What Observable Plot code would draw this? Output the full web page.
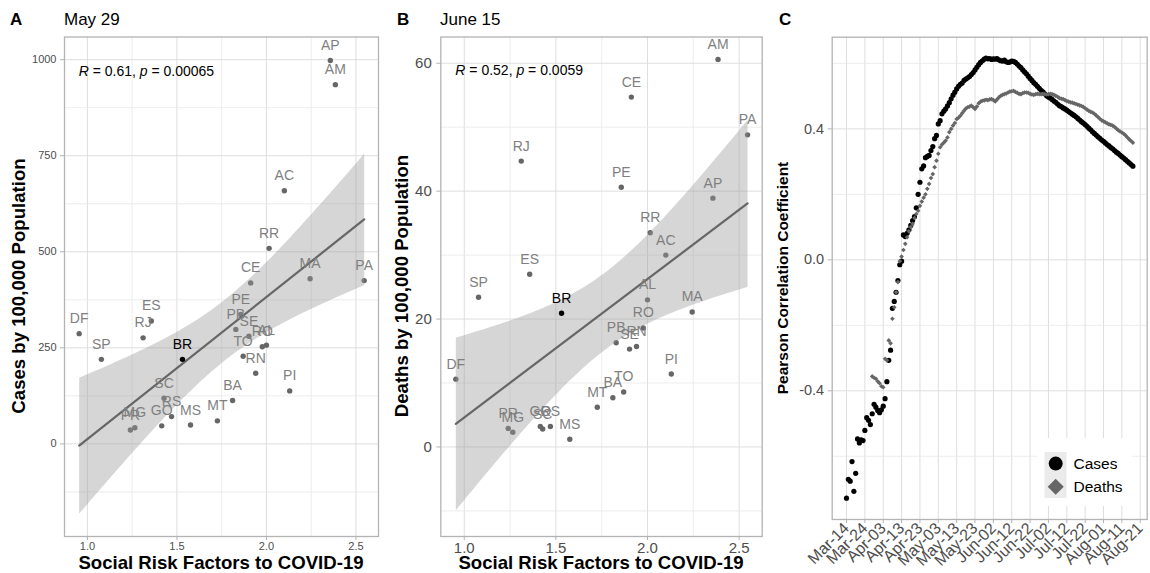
<!DOCTYPE html>
<html><head><meta charset="utf-8">
<script src="https://cdn.jsdelivr.net/npm/d3@7"></script>
<script src="https://cdn.jsdelivr.net/npm/@observablehq/plot@0.6"></script>
<style>
body{margin:0;background:#fff;font-family:"Liberation Sans",Arial,Helvetica,sans-serif;}
#root{position:relative;width:1150px;height:573px;overflow:hidden;background:#fff;}
.panel{position:absolute;top:0;}
.tag{position:absolute;font-weight:bold;font-size:17px;line-height:1;color:#000;}
.title{position:absolute;font-size:17px;line-height:1;color:#000;}
.xt{position:absolute;font-weight:bold;font-size:18.6px;line-height:1;white-space:nowrap;transform:translate(-50%,-50%);color:#000;}
.yt{position:absolute;font-weight:bold;line-height:1;white-space:nowrap;transform:translate(-50%,-50%) rotate(-90deg);color:#000;}
</style></head><body><div id="root"></div>
<script>
// ---------- data: panels A and B ----------
const states      = ["AC","AL","AM","AP","BA","CE","DF","ES","GO","MA","MG","MS","MT","PA","PB","PE","PI","PR","RJ","RN","RO","RR","RS","SC","SE","SP","TO","BR"];
const socialRisk  = [2.100,2.000,2.385,2.357,1.811,1.912,0.954,1.357,1.415,2.244,1.265,1.576,1.726,2.546,1.829,1.857,2.130,1.240,1.311,1.940,1.977,2.015,1.470,1.428,1.902,1.078,1.870,1.531];
const casesMay29  = [659,257,935,998,113,419,287,320,47,430,42,49,60,425,298,337,138,36,276,184,253,509,71,119,280,220,228,220];
const deathsJun15 = [30.0,23.0,60.6,38.9,7.7,54.7,10.6,27.0,3.2,21.1,2.3,1.2,6.2,48.8,16.3,40.6,11.4,2.9,44.7,15.7,18.6,33.5,3.2,2.8,15.3,23.4,8.6,20.9];
const xTicks = [1.0,1.5,2.0,2.5];
const xMinor = [1.25,1.75,2.25];
const casesTicks = [0,250,500,750,1000];
const casesMinor = [-125,125,375,625,875];
const deathsTicks = [0,20,40,60];
const deathsMinor = [-10,10,30,50];
const statA = {R:"0.61", p:"0.00065"};
const statB = {R:"0.52", p:"0.0059"};

// ---------- data: panel C (daily Pearson r) ----------
const casesStart = "2020-03-14";
const casesCorr = [
-0.728,-0.670,-0.676,-0.616,-0.707,-0.652,-0.547,-0.559,-0.550,-0.552,
-0.521,-0.482,-0.490,-0.503,-0.470,-0.441,-0.450,-0.460,-0.467,-0.458,
-0.447,-0.424,-0.372,-0.307,-0.276,-0.148,-0.127,-0.099,-0.063,-0.015,
-0.004,0.076,0.071,0.081,0.092,0.105,0.120,0.132,0.159,0.200,
0.237,0.278,0.287,0.312,0.316,0.319,0.334,0.346,0.370,0.380,
0.415,0.425,0.446,0.454,0.461,0.470,0.480,0.492,0.503,0.512,
0.522,0.530,0.536,0.540,0.548,0.552,0.556,0.560,0.566,0.572,
0.580,0.588,0.596,0.603,0.608,0.613,0.616,0.614,0.615,0.612,
0.614,0.613,0.615,0.611,0.608,0.607,0.610,0.605,0.603,0.604,
0.607,0.606,0.603,0.598,0.592,0.587,0.580,0.574,0.568,0.561,
0.554,0.548,0.541,0.536,0.530,0.524,0.518,0.513,0.507,0.501,
0.497,0.494,0.490,0.485,0.481,0.476,0.471,0.468,0.464,0.461,
0.457,0.453,0.449,0.445,0.441,0.437,0.432,0.427,0.422,0.418,
0.413,0.408,0.402,0.397,0.391,0.386,0.381,0.376,0.371,0.366,
0.362,0.357,0.352,0.348,0.343,0.339,0.334,0.329,0.325,0.320,
0.315,0.311,0.306,0.301,0.296,0.291,0.286];
const deathsStart = "2020-03-28";
const deathsCorr = [
-0.356,-0.360,-0.363,-0.371,-0.377,-0.386,-0.389,-0.302,-0.307,-0.246,
-0.255,-0.180,-0.145,-0.099,-0.068,-0.004,0.010,0.030,0.049,0.069,
0.087,0.100,0.110,0.128,0.140,0.150,0.165,0.178,0.190,0.200,
0.217,0.232,0.250,0.262,0.283,0.303,0.324,0.344,0.352,0.358,
0.364,0.374,0.390,0.400,0.410,0.418,0.430,0.434,0.440,0.448,
0.455,0.462,0.466,0.468,0.471,0.466,0.461,0.468,0.478,0.483,
0.486,0.487,0.489,0.488,0.490,0.491,0.488,0.484,0.490,0.496,
0.501,0.504,0.506,0.508,0.511,0.514,0.515,0.516,0.513,0.510,
0.507,0.506,0.509,0.511,0.511,0.510,0.507,0.505,0.504,0.506,
0.507,0.506,0.506,0.507,0.506,0.505,0.506,0.507,0.506,0.504,
0.501,0.498,0.494,0.492,0.491,0.488,0.485,0.483,0.481,0.480,
0.478,0.476,0.474,0.472,0.470,0.467,0.463,0.459,0.455,0.452,
0.450,0.446,0.441,0.436,0.431,0.426,0.423,0.420,0.417,0.414,
0.412,0.410,0.406,0.401,0.396,0.392,0.389,0.385,0.380,0.374,
0.368,0.363,0.358];
const dateTicks = ["2020-03-14","2020-03-24","2020-04-03","2020-04-13","2020-04-23","2020-05-03","2020-05-13","2020-05-23","2020-06-02","2020-06-12","2020-06-22","2020-07-02","2020-07-12","2020-07-22","2020-08-01","2020-08-11","2020-08-21"];
const corrTicks = [-0.4,0.0,0.4];
const corrMinor = [-0.6,-0.2,0.2,0.6];
const seriesNames = ["Cases","Deaths"];

// ---------- build ----------
const FONT = '"Liberation Sans", Arial, Helvetica, sans-serif';
const GRID = "#dedede", GRIDMINOR = "#e9e9e9", BORDER = "#b3b3b3", TICKTXT = "#4d4d4d";
const root = document.getElementById("root");
function html(cls, text, left, top, extra) {
  const d = document.createElement("div");
  d.className = cls; d.textContent = text;
  d.style.left = left + "px"; d.style.top = top + "px";
  if (extra) Object.assign(d.style, extra);
  root.appendChild(d); return d;
}

const stateData = states.map((s,i)=>({state:s, x:socialRisk[i], cases:casesMay29[i], deaths:deathsJun15[i]}));
const statesOnly = stateData.filter(d=>d.state!=="BR");
const brazil = stateData.filter(d=>d.state==="BR");

function scatter(o) {
  const svg = Plot.plot({
    width: o.width, height: 573,
    marginLeft: o.marginLeft, marginRight: o.marginRight, marginTop: 36.5, marginBottom: 37,
    style: {fontFamily: FONT, background: "white"},
    x: {domain: [0.872, 2.626]},
    y: {domain: o.yDomain},
    marks: [
      Plot.gridX(xMinor, {stroke: GRIDMINOR, strokeOpacity: 1, strokeWidth: 0.8}),
      Plot.gridX(xTicks, {stroke: GRID, strokeOpacity: 1, strokeWidth: 1}),
      Plot.gridY(o.yMinor, {stroke: GRIDMINOR, strokeOpacity: 1, strokeWidth: 0.8}),
      Plot.gridY(o.yTicks, {stroke: GRID, strokeOpacity: 1, strokeWidth: 1}),
      Plot.dot(statesOnly, {x: "x", y: o.field, r: 2.7, fill: "#666666"}),
      Plot.linearRegressionY(statesOnly, {x: "x", y: o.field, stroke: "#666666", strokeWidth: 2.2, fill: "#999999", fillOpacity: 0.4}),
      Plot.dot(brazil, {x: "x", y: o.field, r: 2.7, fill: "black"}),
      Plot.text(statesOnly, {x: "x", y: o.field, text: "state", dy: -15, fill: "#7f7f7f", fontSize: 14}),
      Plot.text(brazil, {x: "x", y: o.field, text: "state", dy: -15, fill: "black", fontSize: 14}),
      Plot.frame({stroke: BORDER, strokeWidth: 1.3}),
      Plot.axisX(xTicks, {tickSize: 4, tickPadding: 2, fontSize: o.tickFont, fill: TICKTXT, stroke: BORDER, label: null, tickFormat: d3.format(".1f")}),
      Plot.axisY(o.yTicks, {tickSize: 4, tickPadding: o.yPad, fontSize: o.tickFont, fill: TICKTXT, stroke: BORDER, label: null, tickFormat: d => String(d)})
    ]
  });
  const sx = svg.scale("x"), sy = svg.scale("y");
  const t = d3.select(svg).append("text")
    .attr("x", sx.apply(o.annX)).attr("y", sy.apply(o.annY)).attr("dy", "0.35em")
    .attr("text-anchor", "start")
    .attr("font-size", 14).attr("font-family", FONT).attr("fill", "black");
  t.append("tspan").attr("font-style", "italic").text("R");
  t.append("tspan").text(` = ${o.stat.R}, `);
  t.append("tspan").attr("font-style", "italic").text("p");
  t.append("tspan").text(` = ${o.stat.p}`);
  svg.classList.add("panel");
  svg.style.left = o.left + "px";
  root.appendChild(svg);
}

scatter({left: 0, width: 380, marginLeft: 64, marginRight: 2, field: "cases", yDomain: [-241, 1059],
  yTicks: casesTicks, yMinor: casesMinor, tickFont: 11, yPad: 4, annX: 0.954, annY: 968, stat: statA});
scatter({left: 380, width: 385, marginLeft: 60.3, marginRight: 3.3, field: "deaths", yDomain: [-14, 64.1],
  yTicks: deathsTicks, yMinor: deathsMinor, tickFont: 15, yPad: 5, annX: 0.954, annY: 58.8, stat: statB});

// panel C
const day = 864e5;
const parse = d3.utcParse("%Y-%m-%d");
const c0 = parse(casesStart), d0 = parse(deathsStart);
const corrData = [
  ...casesCorr.map((r,i)=>({date: new Date(+c0 + i*day), r, series: seriesNames[0]})),
  ...deathsCorr.map((r,i)=>({date: new Date(+d0 + i*day), r, series: seriesNames[1]}))
];
const cSvg = Plot.plot({
  width: 380, height: 573, marginLeft: 61.7, marginRight: 3.3, marginTop: 36.7, marginBottom: 54,
  style: {fontFamily: FONT, background: "white"},
  x: {type: "utc", domain: [new Date(+c0 - 7.8*day), new Date(+c0 + 163.8*day)]},
  y: {domain: [-0.793, 0.68]},
  marks: [
    Plot.gridX(dateTicks.map(parse), {stroke: GRID, strokeOpacity: 1, strokeWidth: 1}),
    Plot.gridY(corrMinor, {stroke: GRIDMINOR, strokeOpacity: 1, strokeWidth: 0.8}),
    Plot.gridY(corrTicks, {stroke: GRID, strokeOpacity: 1, strokeWidth: 1}),
    Plot.dot(corrData.filter(d=>d.series===seriesNames[0]), {x: "date", y: "r", r: 2.6, fill: "black"}),
    Plot.dot(corrData.filter(d=>d.series===seriesNames[1]), {x: "date", y: "r", r: 2.1, symbol: "diamond2", fill: "#666666", stroke: "none"}),
    Plot.frame({stroke: BORDER, strokeWidth: 1.3}),
    Plot.axisX(dateTicks.map(parse), {tickSize: 4, tickPadding: 2, tickRotate: -45, fontSize: 16, fill: TICKTXT, stroke: BORDER, label: null, tickFormat: d3.utcFormat("%b-%d")}),
    Plot.axisY(corrTicks, {tickSize: 4, tickPadding: 4, fontSize: 14.5, fill: TICKTXT, stroke: BORDER, label: null, tickFormat: d => d.toFixed(1)})
  ]
});
// legend (inside panel, bottom right)
{
  const g = d3.select(cSvg).append("g").attr("text-anchor", "start");
  g.append("rect").attr("x", 1037-770).attr("y", 438).attr("width", 95).attr("height", 68).attr("fill", "white");
  g.append("rect").attr("x", 1044.5-770).attr("y", 452).attr("width", 22).attr("height", 23).attr("fill", "#ebebeb");
  g.append("rect").attr("x", 1044.5-770).attr("y", 475).attr("width", 22).attr("height", 23).attr("fill", "#ebebeb");
  g.append("circle").attr("cx", 1055.7-770).attr("cy", 463.6).attr("r", 7).attr("fill", "black");
  g.append("path").attr("d", d3.symbol(d3.symbolDiamond2, 165)()).attr("transform", `translate(${1055.7-770},${486.8})`).attr("fill", "#666666");
  g.append("text").attr("x", 1073.5-770).attr("y", 463.6).attr("dy", "0.35em").attr("font-size", 15.5).attr("font-family", FONT).attr("fill", "black").text(seriesNames[0]);
  g.append("text").attr("x", 1073.5-770).attr("y", 486.8).attr("dy", "0.35em").attr("font-size", 15.5).attr("font-family", FONT).attr("fill", "black").text(seriesNames[1]);
}
cSvg.classList.add("panel");
cSvg.style.left = "770px";
root.appendChild(cSvg);

// titles and axis titles
html("tag", "A", 10, 11);
html("title", "May 29", 64, 11);
html("tag", "B", 397, 11);
html("title", "June 15", 440, 11);
html("tag", "C", 779, 11);
html("xt", "Social Risk Factors to COVID-19", 221, 563);
html("xt", "Social Risk Factors to COVID-19", 601, 563);
html("yt", "Cases by 100,000 Population", 18.5, 286, {fontSize: "18.6px"});
html("yt", "Deaths by 100,000 Population", 401.5, 286, {fontSize: "18.6px"});
html("yt", "Pearson Correlation Coefficient", 783, 278, {fontSize: "15.5px"});
</script></body></html>
